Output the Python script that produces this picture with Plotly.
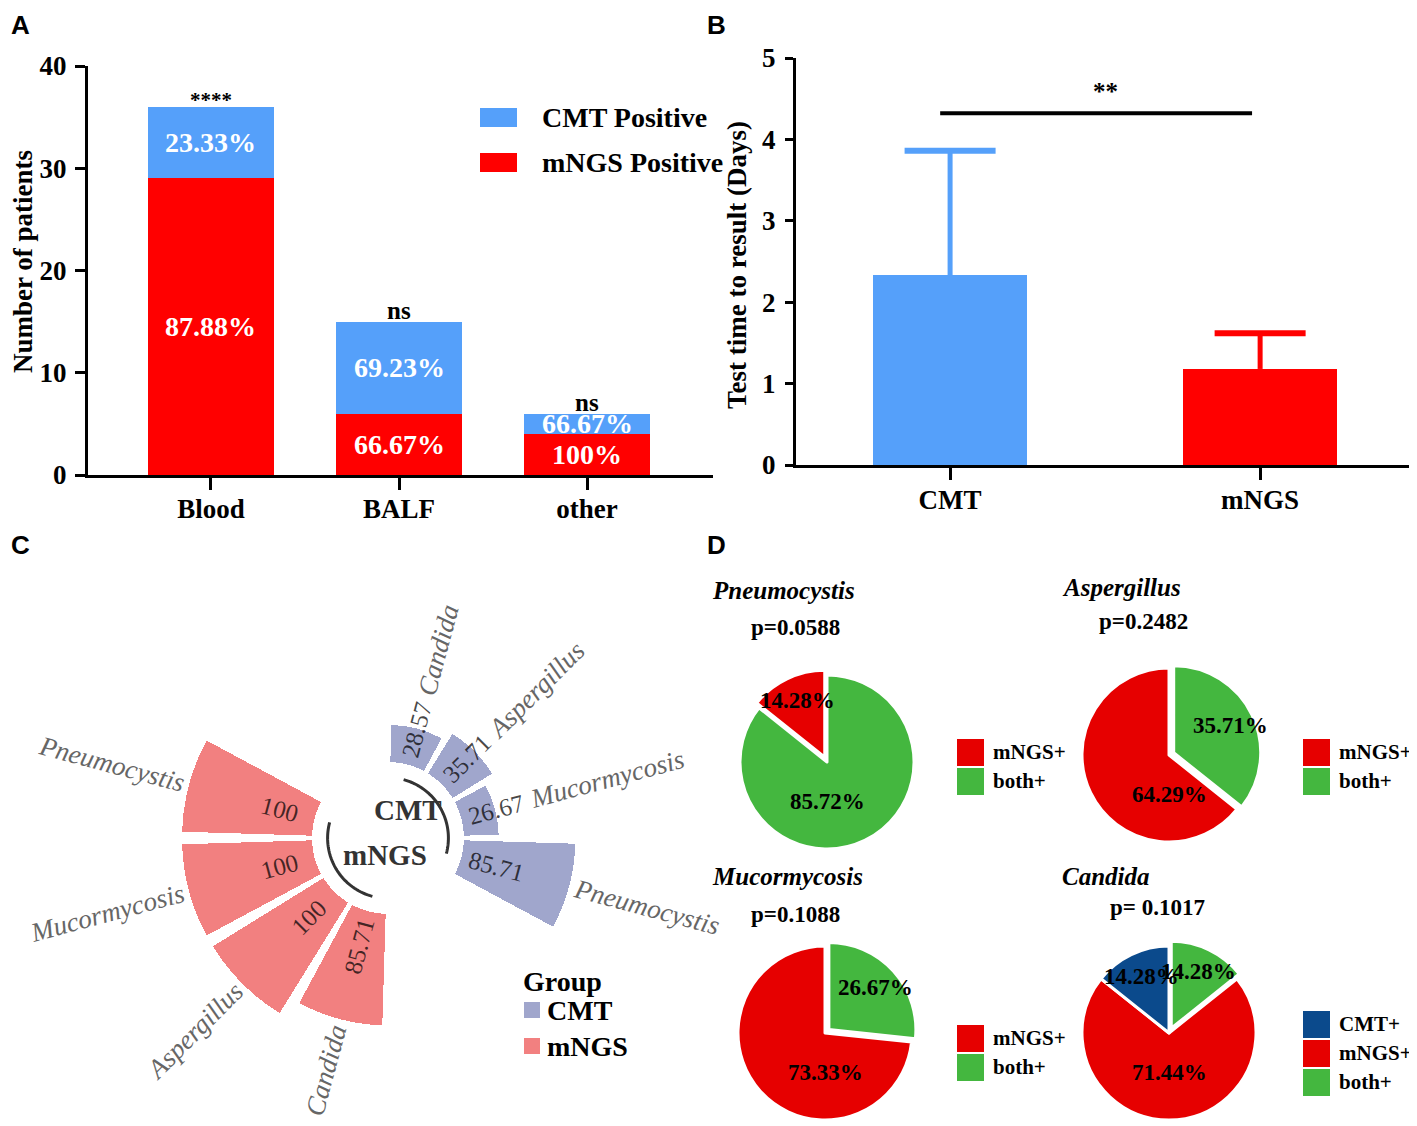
import numpy as np
import plotly.graph_objects as go

# reference canvas size and the page's default body offset
W, H = 1417, 1126
OX, OY = 8, 8
WF, HF = W - OX, H - OY
SERIF = "Liberation Serif"
SANS = "Liberation Sans"

# ---------------- data ----------------
# Panel A
sample_types = ["Blood", "BALF", "other"]
mngs_positive = [29, 6, 4]
cmt_positive = [7, 9, 2]
mngs_pct_text = ["87.88%", "66.67%", "100%"]
cmt_pct_text = ["23.33%", "69.23%", "66.67%"]
a_sig_text = ["****", "ns", "ns"]
a_yticks = [0, 10, 20, 30, 40]

# Panel B
methods = ["CMT", "mNGS"]
tat_mean = [2.33, 1.18]
tat_sd = [1.53, 0.44]
b_sig_text = "**"
b_sig_level = 4.32
b_yticks = [0, 1, 2, 3, 4, 5]

# Panel C
pathogens = ["Candida", "Aspergillus", "Mucormycosis", "Pneumocystis"]
cmt_rate = [28.57, 35.71, 26.67, 85.71]
mngs_rate = [85.71, 100, 100, 100]
cmt_rate_text = ["28.57", "35.71", "26.67", "85.71"]
mngs_rate_text = ["85.71", "100", "100", "100"]
groups = ["CMT", "mNGS"]

# Panel D
pie_titles = ["Pneumocystis", "Aspergillus", "Mucormycosis", "Candida"]
pie_pvalues = ["p=0.0588", "p=0.2482", "p=0.1088", "p= 0.1017"]
pie_labels = [["both+", "mNGS+"], ["both+", "mNGS+"], ["both+", "mNGS+"],
              ["both+", "mNGS+", "CMT+"]]
pie_values = [[85.72, 14.28], [35.71, 64.29], [26.67, 73.33],
              [14.28, 71.44, 14.28]]
pie_text = [["85.72%", "14.28%"], ["35.71%", "64.29%"], ["26.67%", "73.33%"],
            ["14.28%", "71.44%", "14.28%"]]
legend_order = ["CMT+", "mNGS+", "both+"]

# ---------------- styles ----------------
A_BLUE, A_RED = "#55A0FA", "#FF0000"
C_CMT, C_MNGS = "#A0A6CC", "#F28080"
D_COL = {"both+": "#44B73F", "mNGS+": "#E60000", "CMT+": "#0B4A8C"}

# approximate italic serif glyph widths (em) used to centre rotated labels
GLYPH_EM = {"a": .5, "b": .5, "c": .444, "d": .5, "e": .444, "g": .5, "i": .278,
            "l": .278, "m": .722, "n": .5, "o": .5, "p": .5, "r": .389, "s": .389,
            "t": .278, "u": .5, "y": .444, "A": .611, "C": .667, "M": .833, "P": .611}


def text_width(s, size):
    return sum(GLYPH_EM.get(c, 0.5) for c in s) * size


def px(x):
    return (x - OX) / WF


def py(y):
    return 1 - (y - OY) / HF


fig = go.Figure()
annotations = []
shapes = []


def ann(x, y, text, size, color="black", bold=True, italic=False, xanchor="center",
        yanchor="middle", textangle=0, xref="paper", yref="paper", family=SERIF,
        yshift=0):
    annotations.append(dict(
        x=x, y=y, xref=xref, yref=yref, text=text, showarrow=False,
        xanchor=xanchor, yanchor=yanchor, textangle=textangle, yshift=yshift,
        font=dict(family=family, size=size, color=color,
                  weight="bold" if bold else "normal",
                  style="italic" if italic else "normal")))


# ---------------- Panel A ----------------
fig.add_trace(go.Bar(x=sample_types, y=mngs_positive, marker_color=A_RED,
                     marker_line_width=0, width=0.67, xaxis="x", yaxis="y",
                     showlegend=False))
fig.add_trace(go.Bar(x=sample_types, y=cmt_positive, marker_color=A_BLUE,
                     marker_line_width=0, width=0.67, xaxis="x", yaxis="y",
                     showlegend=False))
for i, cat in enumerate(sample_types):
    ann(i, mngs_positive[i] / 2, mngs_pct_text[i], 28, "white", xref="x", yref="y")
    ann(i, mngs_positive[i] + cmt_positive[i] / 2, cmt_pct_text[i], 28, "white",
        xref="x", yref="y")
    tot = mngs_positive[i] + cmt_positive[i]
    is_star = a_sig_text[i].startswith("*")
    ann(i, tot, a_sig_text[i], 21 if is_star else 25, yanchor="bottom",
        xref="x", yref="y", yshift=-7 if is_star else -4)
ann(px(23), py(262), "Number of patients", 27, textangle=-90)

# legend A
for col, lab, yc in [(A_BLUE, "CMT Positive", 118), (A_RED, "mNGS Positive", 163)]:
    shapes.append(dict(type="rect", xref="paper", yref="paper",
                       x0=px(480), x1=px(517), y0=py(yc + 9), y1=py(yc - 10),
                       fillcolor=col, line_width=0))
    ann(px(540), py(yc), lab, 28, xanchor="left")

# ---------------- Panel B ----------------
for i, m in enumerate(methods):
    col = A_BLUE if i == 0 else A_RED
    fig.add_trace(go.Bar(x=[m], y=[tat_mean[i]], marker_color=col, marker_line_width=0,
                         width=0.497, xaxis="x2", yaxis="y2", showlegend=False))
    top = tat_mean[i] + tat_sd[i]
    fig.add_trace(go.Scatter(x=[m, m], y=[tat_mean[i], top], mode="lines",
                             line=dict(color=col, width=5), xaxis="x2", yaxis="y2",
                             showlegend=False, hoverinfo="skip"))
    fig.add_trace(go.Scatter(x=[m], y=[top], mode="markers",
                             marker=dict(symbol="line-ew", size=65,
                                         line=dict(color=col, width=6)),
                             xaxis="x2", yaxis="y2", showlegend=False,
                             hoverinfo="skip"))
shapes.append(dict(type="line", xref="x2", yref="y2", x0=-0.032, x1=0.974,
                   y0=b_sig_level, y1=b_sig_level, line=dict(color="black", width=4)))
ann(0.5, b_sig_level + 0.27, b_sig_text, 25, xref="x2", yref="y2")
ann(px(737), py(265), "Test time to result (Days)", 27, textangle=-90)

# ---------------- Panel C (circular barplot) ----------------
CX, CY = 388, 838
R_OUT = 280
R0_PX, PX_PER_UNIT = 76, 1.3
rmin = -R0_PX / PX_PER_UNIT
rmax = (R_OUT - R0_PX) / PX_PER_UNIT
slot = 360 / 12
cmt_theta = [(i + 0.5) * slot for i in range(len(pathogens))]
mngs_theta = [(i + 6.5) * slot for i in range(len(pathogens))]


def rpx(v):
    return R0_PX + PX_PER_UNIT * v


def pol(theta, r):
    t = np.radians(theta)
    return px(CX + r * np.sin(t)), py(CY - r * np.cos(t))


def radial_angle(theta):
    return theta - 90 if theta < 180 else theta - 270


fig.add_trace(go.Barpolar(r=cmt_rate, theta=cmt_theta, width=26.5, base=0,
                          marker_color=C_CMT, marker_line_width=0, subplot="polar",
                          showlegend=False))
fig.add_trace(go.Barpolar(r=mngs_rate, theta=mngs_theta, width=26.5, base=0,
                          marker_color=C_MNGS, marker_line_width=0, subplot="polar",
                          showlegend=False))
for th in (cmt_theta, mngs_theta):
    arc = np.linspace(th[0], th[-1], 60)
    fig.add_trace(go.Scatterpolar(r=[-12] * len(arc), theta=arc, mode="lines",
                                  line=dict(color="#333333", width=3),
                                  subplot="polar", showlegend=False,
                                  hoverinfo="skip"))

LABEL_SIZE = 27
for thetas, vals, vtexts in ((cmt_theta, cmt_rate, cmt_rate_text),
                             (mngs_theta, mngs_rate, mngs_rate_text)):
    for th, v, vt, name in zip(thetas, vals, vtexts, pathogens):
        x, y = pol(th, 112)
        ann(x, y, vt, 25, "rgba(0,0,0,0.72)", bold=False,
            textangle=radial_angle(th))
        inner = max(rpx(v) + 6, 148)
        half = text_width(name, LABEL_SIZE) / 2
        x, y = pol(th, inner + half)
        ann(x, y, name, LABEL_SIZE, "#666666", bold=False, italic=True,
            textangle=radial_angle(th))

ann(px(408), py(810), groups[0], 29, "#333333")
ann(px(385), py(855), groups[1], 29, "#333333")

# legend C
ann(px(521), py(981), "Group", 28, xanchor="left")
for col, lab, yc in [(C_CMT, groups[0], 1010), (C_MNGS, groups[1], 1046)]:
    shapes.append(dict(type="rect", xref="paper", yref="paper",
                       x0=px(524), x1=px(540), y0=py(yc + 8), y1=py(yc - 8),
                       fillcolor=col, line_width=0))
    ann(px(545), py(yc), lab, 28, xanchor="left")

# ---------------- Panel D (pies) ----------------
PIE_R = 87
PULL = 0.06
pie_centers = [(827, 762), (1169, 755), (825, 1033), (1169, 1033)]
title_pos = [(710, 590), (1060, 587), (710, 876), (1060, 876)]
pval_pos = [(795, 627), (1143, 621), (795, 914), (1157, 907)]
legend_pos = [(957, 739), (1303, 739), (957, 1025), (1303, 1011)]

for k in range(4):
    vals = pie_values[k]
    labs = pie_labels[k]
    pulls = [0.0] * len(vals)
    imin = int(np.argmin(vals))
    pulls[imin] = PULL
    cx, cy = pie_centers[k]
    half = PIE_R * (1 + PULL)
    fig.add_trace(go.Pie(values=vals, labels=labs, sort=False, direction="clockwise",
                         rotation=0, pull=pulls, textinfo="none", hoverinfo="skip",
                         marker=dict(colors=[D_COL[l] for l in labs],
                                     line=dict(color="white", width=3)),
                         domain=dict(x=[px(cx - half), px(cx + half)],
                                     y=[max(0, py(cy + half)), py(cy - half)]),
                         showlegend=False))
    total = sum(vals)
    start = 0.0
    for j, v in enumerate(vals):
        frac = v / total
        mid = start + frac * 180
        start += frac * 360
        if frac > 0.5:
            ang, rr = 180.0, 0.45 * PIE_R
        else:
            ang, rr = mid, 0.72 * PIE_R + pulls[j] * PIE_R
        t = np.radians(ang)
        ann(px(cx + rr * np.sin(t)), py(cy - rr * np.cos(t)), pie_text[k][j], 23)

    ann(px(title_pos[k][0]), py(title_pos[k][1]), pie_titles[k], 25, italic=True,
        xanchor="left")
    ann(px(pval_pos[k][0]), py(pval_pos[k][1]), pie_pvalues[k], 23)

    lx, ly = legend_pos[k]
    items = [l for l in legend_order if l in labs]
    for n, l in enumerate(items):
        y0 = ly + n * 29
        shapes.append(dict(type="rect", xref="paper", yref="paper",
                           x0=px(lx), x1=px(lx + 27), y0=py(y0 + 27), y1=py(y0),
                           fillcolor=D_COL[l], line_width=0))
        ann(px(lx + 34), py(y0 + 13), l, 21, xanchor="left")

# ---------------- panel letters ----------------
for letter, (x, y) in zip("ABCD", [(20, 8), (716, 8), (20, 528), (716, 528)]):
    ann(px(x), py(y), letter, 26, family=SANS, yanchor="top")

# ---------------- layout ----------------
axis_common = dict(showline=True, linewidth=3, linecolor="black", ticks="outside",
                   tickwidth=3, tickcolor="black", showgrid=False, zeroline=False,
                   automargin=False,
                   tickfont=dict(family=SERIF, size=27, color="black", weight="bold"))

fig.update_layout(
    template="none",
    width=WF, height=HF, margin=dict(l=0, r=0, t=0, b=0, pad=0),
    paper_bgcolor="white", plot_bgcolor="white", barmode="stack",
    showlegend=False,
    xaxis=dict(domain=[px(88), px(713)], range=[-0.654, 2.67], anchor="y",
               ticklen=12, ticklabelstandoff=-4, **axis_common),
    yaxis=dict(domain=[py(475), py(66)], range=[0, 40], anchor="x",
               tickvals=a_yticks, ticklen=10, ticklabelstandoff=3, **axis_common),
    xaxis2=dict(domain=[px(796), 1.0], range=[-0.497, 1.506], anchor="y2",
                ticklen=12, ticklabelstandoff=-3, **axis_common),
    yaxis2=dict(domain=[py(465), py(58)], range=[0, 5], anchor="x2",
                tickvals=b_yticks, ticklen=8, ticklabelstandoff=4, **axis_common),
    polar=dict(domain=dict(x=[px(CX - R_OUT), px(CX + R_OUT)],
                           y=[max(0, py(CY + R_OUT)), py(CY - R_OUT)]),
               bgcolor="rgba(0,0,0,0)", hole=0,
               radialaxis=dict(visible=False, range=[rmin, rmax]),
               angularaxis=dict(visible=False, rotation=90, direction="clockwise")),
    annotations=annotations,
    shapes=shapes,
)

fig.write_html("out.html")
